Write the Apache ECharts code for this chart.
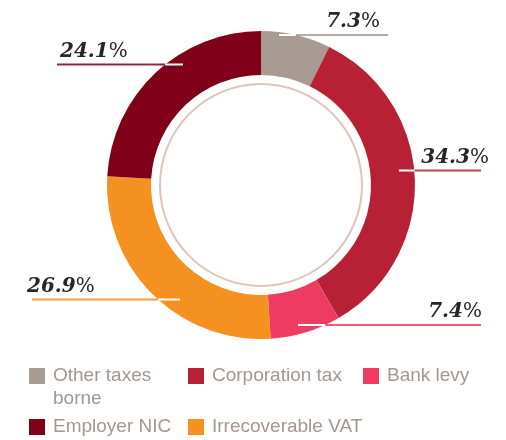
<!DOCTYPE html>
<html>
<head>
<meta charset="utf-8">
<script src="https://cdn.jsdelivr.net/npm/echarts@6/dist/echarts.min.js"></script>
<style>
  html, body { margin: 0; padding: 0; background: #fff; }
  #chart { width: 506px; height: 440px; }
</style>
</head>
<body>
<div id="chart"></div>
<script>
// share of total taxes borne, clockwise from 12 o'clock
const sliceNames = ['Other taxes borne', 'Corporation tax', 'Bank levy', 'Irrecoverable VAT', 'Employer NIC']
const sliceShares = [7.3, 34.3, 7.4, 26.9, 24.1]
const sliceColors = ['#a89b93', '#b72035', '#ee3b62', '#f59120', '#80001a']
// legend order as printed under the chart
const legendOrder = ['Other taxes borne', 'Corporation tax', 'Bank levy', 'Employer NIC', 'Irrecoverable VAT']

const cx = 261
const cy = 185
const rOuter = 154
const rInner = 110

// where each callout line sits: y, start (inside slice), end, text anchor
const callouts = [
  { y: 35, from: 279, to: 388, textX: 380, side: 'right' },
  { y: 170.5, from: 399, to: 481, textX: 489, side: 'right' },
  { y: 325, from: 298, to: 481, textX: 482, side: 'right' },
  { y: 299.5, from: 180, to: 32, textX: 27, side: 'left' },
  { y: 64.5, from: 183, to: 57, textX: 60, side: 'left' }
]

// x where the callout line leaves the ring
function ringEdge (c) {
  const half = Math.sqrt(rOuter * rOuter - (c.y - cy) * (c.y - cy))
  return c.side === 'right' ? cx + half : cx - half
}

const pieData = sliceNames.map((name, i) => ({
  name: name,
  value: sliceShares[i],
  itemStyle: { color: sliceColors[i] },
  labelLine: { lineStyle: { color: sliceColors[i], width: 2, opacity: 0.85 } }
}))

// same slices, invisible, only to lay the white part of each callout over the ring
const overlayData = sliceNames.map((name, i) => ({
  name: name,
  value: sliceShares[i]
}))

const legendSpots = [
  { left: 29, top: 341.5 },
  { left: 188, top: 364.5 },
  { left: 363, top: 364.5 },
  { left: 29, top: 415.5 },
  { left: 188, top: 415.5 }
]

const legends = legendOrder.map((name, i) => ({
  data: [name],
  left: legendSpots[i].left,
  top: legendSpots[i].top,
  padding: 0,
  icon: 'rect',
  itemWidth: 16,
  itemHeight: 16,
  selectedMode: false,
  // blank first line keeps "Other taxes" level with its square
  formatter: n => n === 'Other taxes borne' ? ' \nOther taxes\nborne' : n,
  textStyle: {
    fontFamily: 'Liberation Sans',
    fontSize: 19,
    lineHeight: 23,
    color: '#a3978f',
    padding: [0, 0, 0, 3]
  }
}))

const myChart = echarts.init(document.getElementById('chart'), null, { renderer: 'canvas' })
myChart.setOption({
  animation: false,
  backgroundColor: '#ffffff',
  legend: legends,
  graphic: [{
    type: 'circle',
    shape: { cx: cx, cy: cy, r: 101 },
    style: { fill: 'none', stroke: '#dfc4ba', lineWidth: 2 },
    silent: true
  }],
  series: [{
    type: 'pie',
    z: 2,
    center: [cx, cy],
    radius: [rInner, rOuter],
    startAngle: 90,
    clockwise: true,
    avoidLabelOverlap: false,
    silent: true,
    emphasis: { disabled: true },
    data: pieData,
    label: {
      show: true,
      position: 'outside',
      formatter: p => '{n|' + p.value.toFixed(1) + '}{p|%}',
      rich: {
        n: { fontFamily: 'DejaVu Serif', fontStyle: 'italic', fontWeight: 'bold', fontSize: 20, color: '#262626', lineHeight: 22 },
        p: { fontFamily: 'DejaVu Serif', fontSize: 20, color: '#262626', lineHeight: 22 }
      }
    },
    labelLine: { show: true },
    labelLayout: function (params) {
      const c = callouts[params.dataIndex]
      const edge = ringEdge(c)
      return {
        x: c.textX,
        y: c.y - 2,
        align: c.side === 'right' ? 'right' : 'left',
        verticalAlign: 'bottom',
        labelLinePoints: [[edge, c.y], [(edge + c.to) / 2, c.y], [c.to, c.y]]
      }
    }
  }, {
    type: 'pie',
    z: 3,
    center: [cx, cy],
    radius: [rInner, rOuter],
    startAngle: 90,
    clockwise: true,
    avoidLabelOverlap: false,
    silent: true,
    emphasis: { disabled: true },
    data: overlayData,
    itemStyle: { color: 'rgba(0,0,0,0)' },
    label: { show: true, position: 'outside', formatter: ' ', fontSize: 2 },
    labelLine: { show: true, lineStyle: { color: '#ffffff', width: 2, opacity: 1 } },
    labelLayout: function (params) {
      const c = callouts[params.dataIndex]
      const edge = ringEdge(c)
      return {
        x: c.from,
        y: c.y,
        labelLinePoints: [[c.from, c.y], [(c.from + edge) / 2, c.y], [edge, c.y]]
      }
    }
  }]
})
</script>
</body>
</html>
